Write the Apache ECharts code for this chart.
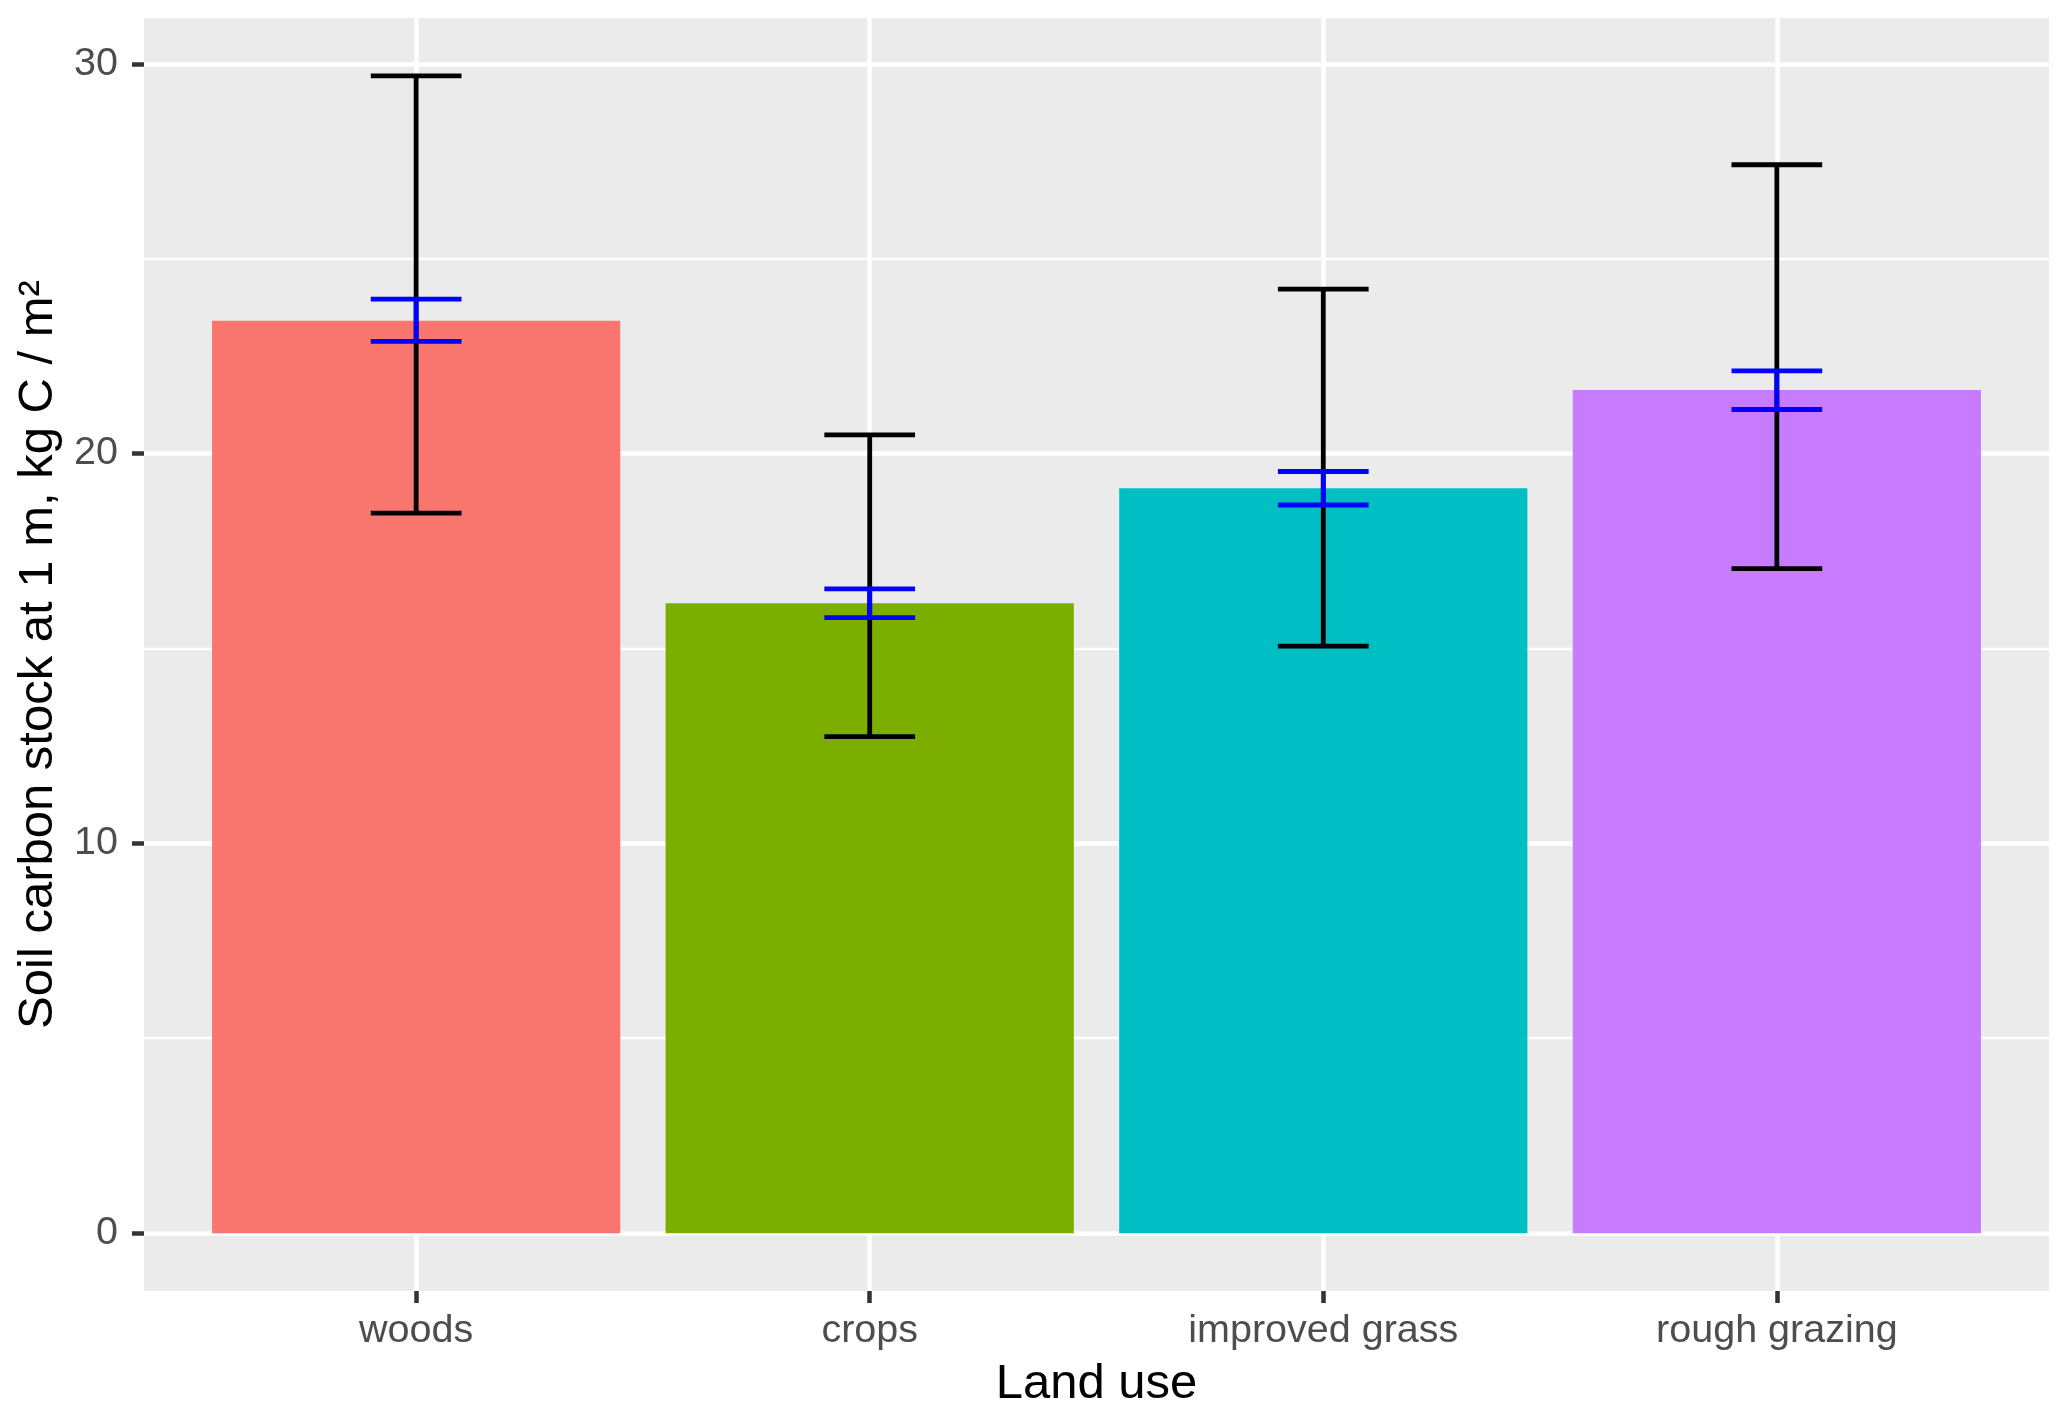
<!DOCTYPE html>
<html>
<head>
<meta charset="utf-8">
<script src="https://cdn.jsdelivr.net/npm/echarts@6/dist/echarts.min.js"></script>
<style>
html, body { margin: 0; padding: 0; background: #ffffff; }
#chart { width: 2067px; height: 1416px; }
</style>
</head>
<body>
<div id="chart"></div>
<script>
const categories = ['woods', 'crops', 'improved grass', 'rough grazing'];
const meanValues = [23.41, 16.16, 19.11, 21.63];
const seLower = [22.88, 15.79, 18.68, 21.13];
const seUpper = [23.96, 16.53, 19.54, 22.12];
const rangeLower = [18.47, 12.74, 15.06, 17.05];
const rangeUpper = [29.69, 20.48, 24.22, 27.41];
const barColors = ['#F8766D', '#7CAE00', '#00BFC4', '#C77CFF'];
const yTicks = [0, 10, 20, 30];
const yMinorTicks = [5, 15, 25];
const xTitle = 'Land use';
const yTitle = 'Soil carbon stock at 1 m, kg C / m\u00B2';

const FONT = '"Liberation Sans", Arial, Helvetica, sans-serif';
const xPositions = categories.map((c, i) => i + 1);
const yTop = Math.max(...rangeUpper);
const yExp = yTop * 0.05;
const yMin = -yExp;
const yMax = yTop + yExp;

const barData = meanValues.map((v, i) => [xPositions[i], v]);
const rangeData = rangeLower.map((v, i) => [xPositions[i], v, rangeUpper[i]]);
const seData = seLower.map((v, i) => [xPositions[i], v, seUpper[i]]);

function errorRenderer(color, width) {
  return function (params, api) {
    const x = api.value(0), lo = api.value(1), hi = api.value(2);
    const pLo = api.coord([x, lo]);
    const pHi = api.coord([x, hi]);
    const cl = api.coord([x - 0.1, lo]);
    const cr = api.coord([x + 0.1, lo]);
    const hl = api.coord([x - 0.1, hi]);
    const hr = api.coord([x + 0.1, hi]);
    const style = { stroke: color, lineWidth: width, lineCap: 'butt' };
    return {
      type: 'group',
      children: [
        { type: 'line', shape: { x1: pLo[0], y1: pLo[1], x2: pHi[0], y2: pHi[1] }, style: style },
        { type: 'line', shape: { x1: cl[0], y1: cl[1], x2: cr[0], y2: cr[1] }, style: style },
        { type: 'line', shape: { x1: hl[0], y1: hl[1], x2: hr[0], y2: hr[1] }, style: style }
      ]
    };
  };
}

const chart = echarts.init(document.getElementById('chart'), null, { renderer: 'canvas' });
chart.setOption({
  animation: false,
  backgroundColor: '#ffffff',
  textStyle: { fontFamily: FONT },
  grid: {
    left: 144, right: 18, top: 18, bottom: 125,
    containLabel: false,
    outerBoundsMode: 'none',
    show: true, backgroundColor: '#EBEBEB', borderWidth: 0
  },
  xAxis: {
    type: 'value',
    min: 0.4, max: 4.6,
    position: 'bottom',
    axisLine: { show: false, onZero: false },
    axisTick: { show: true, customValues: xPositions, length: 12, lineStyle: { color: '#333333', width: 4.5 } },
    axisLabel: {
      customValues: xPositions,
      formatter: function (v) { return categories[Math.round(v) - 1]; },
      fontSize: 39.5, color: '#4D4D4D', fontFamily: FONT, margin: 20
    },
    splitLine: { show: true, lineStyle: { color: '#ffffff', width: 4.5 } },
    name: xTitle,
    nameLocation: 'middle',
    nameGap: 69,
    nameTextStyle: { fontSize: 49, color: '#000000', fontFamily: FONT }
  },
  yAxis: [{
    type: 'value',
    min: yMin, max: yMax,
    axisLine: { show: false, onZero: false },
    axisTick: { show: true, customValues: yTicks, length: 12, lineStyle: { color: '#333333', width: 4.5 } },
    axisLabel: { customValues: yTicks, fontSize: 39.5, color: '#4D4D4D', fontFamily: FONT, margin: 26 },
    splitLine: { show: true, lineStyle: { color: '#ffffff', width: 4.5 } },
    name: yTitle,
    nameLocation: 'middle',
    nameRotate: 90,
    nameGap: 80,
    nameTextStyle: { fontSize: 49, color: '#000000', fontFamily: FONT }
  }, {
    type: 'value',
    min: yMin, max: yMax,
    position: 'left',
    axisLine: { show: false, onZero: false },
    axisTick: { show: false, customValues: yMinorTicks },
    axisLabel: { show: false, customValues: yMinorTicks },
    splitLine: { show: true, lineStyle: { color: '#ffffff', width: 2.3 } }
  }],
  series: [{
    type: 'custom',
    name: 'mean',
    data: barData,
    renderItem: function (params, api) {
      const x = api.value(0), y = api.value(1);
      const p1 = api.coord([x - 0.45, y]);
      const p2 = api.coord([x + 0.45, 0]);
      return {
        type: 'rect',
        shape: { x: p1[0], y: p1[1], width: p2[0] - p1[0], height: p2[1] - p1[1] },
        style: { fill: barColors[params.dataIndex] }
      };
    },
    z: 2
  }, {
    type: 'custom',
    name: 'range',
    data: rangeData,
    renderItem: errorRenderer('#000000', 4.8),
    z: 3
  }, {
    type: 'custom',
    name: 'se',
    data: seData,
    renderItem: errorRenderer('#0000FF', 4.8),
    z: 4
  }]
});
</script>
</body>
</html>
